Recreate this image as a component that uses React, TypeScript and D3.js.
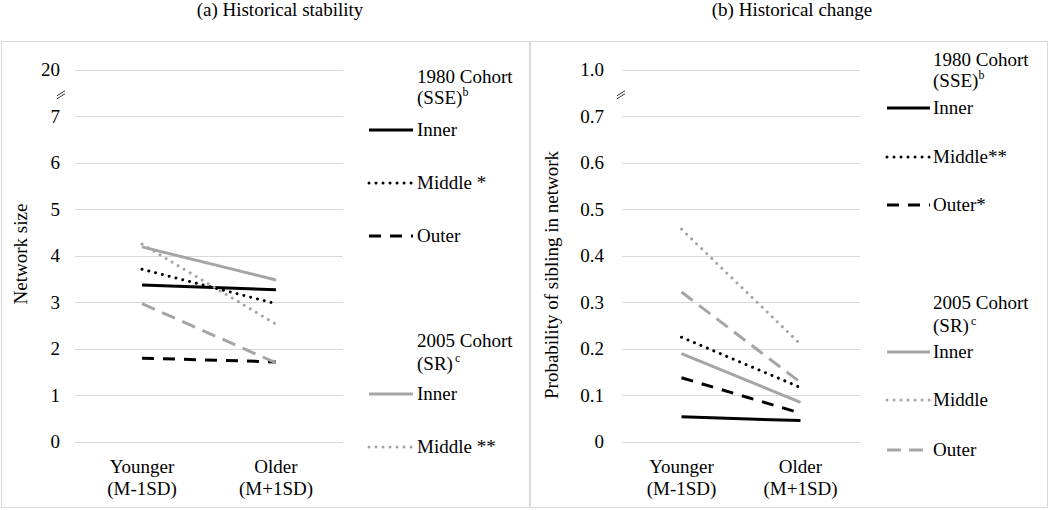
import React from "react";
import * as d3 from "d3";

const categories = ["Younger (M-1SD)", "Older (M+1SD)"];

// Panel (a): network size
const sizeTicks = [0, 1, 2, 3, 4, 5, 6, 7];
const sizeTopTickLabel = "20";
const sizeInner1980 = [3.37, 3.27];
const sizeMiddle1980 = [3.71, 2.97];
const sizeOuter1980 = [1.8, 1.72];
const sizeInner2005 = [4.19, 3.48];
const sizeMiddle2005 = [4.25, 2.53];
const sizeOuter2005 = [2.97, 1.7];

// Panel (b): probability of sibling
const probTicks = [0, 0.1, 0.2, 0.3, 0.4, 0.5, 0.6, 0.7];
const probTopTickLabel = "1.0";
const probInner1980 = [0.054, 0.046];
const probMiddle1980 = [0.225, 0.117];
const probOuter1980 = [0.138, 0.062];
const probInner2005 = [0.19, 0.085];
const probMiddle2005 = [0.457, 0.21];
const probOuter2005 = [0.322, 0.128];

const legendA1980 = ["Inner", "Middle *", "Outer"];
const legendA2005 = ["Inner", "Middle **"];
const legendB1980 = ["Inner", "Middle**", "Outer*"];
const legendB2005 = ["Inner", "Middle", "Outer"];

const BLACK = "#000000";
const GRAY = "#A5A5A5";
const GRID = "#D9D9D9";
const FONT = "'Liberation Serif', 'Times New Roman', serif";

type Style = { color: string; dash?: string; cap: "butt" | "round" };
const styles: Style[] = [
  { color: BLACK, cap: "butt" },
  { color: BLACK, dash: "0.01 7", cap: "round" },
  { color: BLACK, dash: "12 9", cap: "butt" },
  { color: GRAY, cap: "butt" },
  { color: GRAY, dash: "0.01 7", cap: "round" },
  { color: GRAY, dash: "14 8", cap: "butt" },
];

type PanelProps = {
  title: string;
  titleX: number;
  box: [number, number, number, number];
  x0: number;
  x1: number;
  maxVal: number;
  ticks: number[];
  topLabel: string;
  fmt: (v: number) => string;
  tickRight: number;
  yLabel: string;
  yLabelX: number;
  yLabelY: number;
  series: number[][];
  breakX: number;
  legend: {
    lineX0: number;
    lineX1: number;
    textX: number;
    head1: number;
    items1: string[];
    items1Y: number[];
    head2: number;
    items2: string[];
    items2Y: number[];
    sup1: number;
    sup2: number;
  };
};

function Panel(p: PanelProps) {
  const y = d3.scaleLinear().domain([0, p.maxVal]).range([442, 69.5]);
  const x = d3.scaleBand().domain(categories).range([p.x0, p.x1]);
  const line = d3
    .line<number>()
    .x((_, i) => (x(categories[i]) as number) + x.bandwidth() / 2)
    .y((d) => y(d));
  const step = p.maxVal / 8;
  const L = p.legend;
  const fs = 19;
  return (
    <g fontFamily={FONT} fontSize={fs} fill="#000">
      <rect x={p.box[0]} y={p.box[1]} width={p.box[2]} height={p.box[3]} fill="none" stroke={GRID} strokeWidth={1} />
      <text x={p.titleX} y={16} textAnchor="middle">{p.title}</text>
      {[...p.ticks, p.maxVal].map((t, i) => (
        <g key={i}>
          <line x1={p.x0} x2={p.x1} y1={Math.round(y(t)) + 0.5} y2={Math.round(y(t)) + 0.5} stroke={GRID} strokeWidth={1} />
          <text x={p.tickRight} y={y(t)} dy="0.34em" textAnchor="end">
            {i === p.ticks.length ? p.topLabel : p.fmt(t)}
          </text>
        </g>
      ))}
      {/* axis break marks */}
      {[0, 3].map((o) => (
        <line key={o} x1={p.breakX} y1={y(7.5 * step) + 3 + o} x2={p.breakX + 8} y2={y(7.5 * step) - 2 + o} stroke="#000" strokeWidth={0.8} />
      ))}
      <text transform={`translate(${p.yLabelX},${p.yLabelY}) rotate(-90)`} textAnchor="middle">{p.yLabel}</text>
      {categories.map((c) => {
        const [a, b] = [c.slice(0, c.indexOf(" ")), c.slice(c.indexOf(" ") + 1)];
        const cx = (x(c) as number) + x.bandwidth() / 2;
        return (
          <g key={c}>
            <text x={cx} y={473} textAnchor="middle">{a}</text>
            <text x={cx} y={495} textAnchor="middle">{b}</text>
          </g>
        );
      })}
      {p.series.map((s, i) => (
        <path key={i} d={line(s) || ""} fill="none" stroke={styles[i].color} strokeWidth={3}
          strokeDasharray={styles[i].dash} strokeLinecap={styles[i].cap} />
      ))}
      {/* legend */}
      <text x={L.textX} y={L.head1}>1980 Cohort</text>
      <text x={L.textX} y={L.head1 + 21}>(SSE)<tspan fontSize={12} dy={-L.sup1}>b</tspan></text>
      {L.items1.map((t, i) => (
        <g key={"a" + i}>
          <line x1={L.lineX0} x2={L.lineX1} y1={L.items1Y[i]} y2={L.items1Y[i]} stroke={styles[i].color} strokeWidth={3}
            strokeDasharray={styles[i].dash} strokeLinecap={styles[i].cap} />
          <text x={L.textX} y={L.items1Y[i]} dy="0.33em">{t}</text>
        </g>
      ))}
      <text x={L.textX} y={L.head2}>2005 Cohort</text>
      <text x={L.textX} y={L.head2 + 23}>(SR)<tspan fontSize={12} dx={2} dy={-L.sup2}>c</tspan></text>
      {L.items2.map((t, i) => (
        <g key={"b" + i}>
          <line x1={L.lineX0} x2={L.lineX1} y1={L.items2Y[i]} y2={L.items2Y[i]} stroke={styles[i + 3].color} strokeWidth={3}
            strokeDasharray={styles[i + 3].dash} strokeLinecap={styles[i + 3].cap} />
          <text x={L.textX} y={L.items2Y[i]} dy="0.33em">{t}</text>
        </g>
      ))}
    </g>
  );
}

export default function App() {
  return (
    <svg width={1050} height={510} style={{ position: "absolute", left: 0, top: 0, background: "#fff" }}>
      <rect width={1050} height={510} fill="#fff" />
      <Panel
        title="(a) Historical stability"
        titleX={280}
        box={[1.5, 41.5, 528, 466]}
        x0={75}
        x1={343}
        maxVal={8}
        ticks={sizeTicks}
        topLabel={sizeTopTickLabel}
        fmt={(v) => String(v)}
        tickRight={60}
        yLabel="Network size"
        yLabelX={27}
        yLabelY={254}
        series={[sizeInner1980, sizeMiddle1980, sizeOuter1980, sizeInner2005, sizeMiddle2005, sizeOuter2005]}
        breakX={57}
        legend={{
          lineX0: 369,
          lineX1: 413,
          textX: 417,
          head1: 83,
          items1: legendA1980,
          items1Y: [130, 183, 236],
          head2: 347,
          items2: legendA2005,
          items2Y: [394, 447],
          sup1: 8,
          sup2: 8,
        }}
      />
      <Panel
        title="(b) Historical change"
        titleX={792}
        box={[530.5, 41.5, 517, 466]}
        x0={622}
        x1={860}
        maxVal={0.8}
        ticks={probTicks}
        topLabel={probTopTickLabel}
        fmt={(v) => (v === 0 ? "0" : d3.format(".1f")(v))}
        tickRight={604}
        yLabel="Probability of sibling in network"
        yLabelX={558}
        yLabelY={275}
        series={[probInner1980, probMiddle1980, probOuter1980, probInner2005, probMiddle2005, probOuter2005]}
        breakX={617}
        legend={{
          lineX0: 887,
          lineX1: 930,
          textX: 933,
          head1: 66,
          items1: legendB1980,
          items1Y: [108, 157, 205],
          head2: 309,
          items2: legendB2005,
          items2Y: [352, 400, 450],
          sup1: 8,
          sup2: 7,
        }}
      />
    </svg>
  );
}
